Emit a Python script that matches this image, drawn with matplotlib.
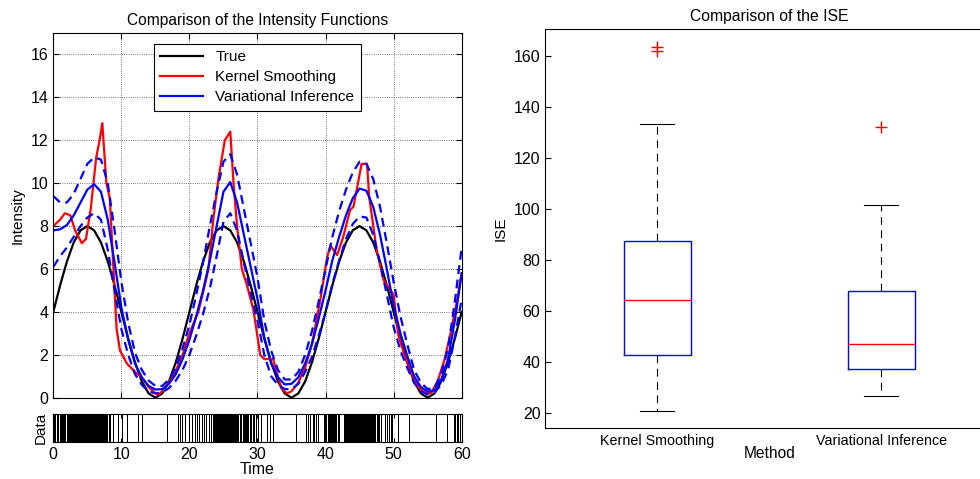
import matplotlib
matplotlib.use("Agg")
import matplotlib.pyplot as plt

plt.rcParams['font.family'] = ['Liberation Sans', 'DejaVu Sans']

# time grid for the true intensity and VI curves
t_grid = list(range(0, 61))

true_rate = [4.0, 5.24, 6.35, 7.24, 7.80, 8.0, 7.80, 7.24, 6.35, 5.24,
             4.0, 2.76, 1.65, 0.76, 0.20, 0.0, 0.20, 0.76, 1.65, 2.76,
             4.0, 5.24, 6.35, 7.24, 7.80, 8.0, 7.80, 7.24, 6.35, 5.24,
             4.0, 2.76, 1.65, 0.76, 0.20, 0.0, 0.20, 0.76, 1.65, 2.76,
             4.0, 5.24, 6.35, 7.24, 7.80, 8.0, 7.80, 7.24, 6.35, 5.24,
             4.0, 2.76, 1.65, 0.76, 0.20, 0.0, 0.20, 0.76, 1.65, 2.76,
             4.0]

vi_mean = [7.8, 7.85, 8.05, 8.5, 9.1, 9.7, 9.95, 9.6, 8.3, 6.3,
           4.2, 2.7, 1.6, 0.95, 0.55, 0.38, 0.4, 0.65, 1.1, 1.8,
           2.7, 3.8, 5.0, 6.4, 8.0, 9.6, 10.05, 9.1, 7.6, 6.1,
           4.6, 2.8, 1.6, 0.95, 0.62, 0.65, 0.95, 1.6, 2.5, 3.7,
           5.0, 6.4, 7.5, 8.5, 9.3, 9.75, 9.65, 8.9, 7.6, 6.0,
           4.3, 3.0, 1.95, 1.0, 0.5, 0.28, 0.35, 0.85, 1.8, 3.6,
           5.8]

vi_upper = [9.4, 9.1, 9.1, 9.5, 10.2, 10.9, 11.2, 11.1, 10.0, 7.8,
            5.4, 3.5, 2.1, 1.3, 0.8, 0.55, 0.55, 0.85, 1.4, 2.3,
            3.4, 4.8, 6.3, 8.0, 9.6, 11.0, 11.35, 10.4, 8.8, 7.2,
            5.6, 3.6, 2.2, 1.3, 0.85, 0.85, 1.2, 2.0, 3.1, 4.5,
            6.0, 7.5, 8.7, 9.7, 10.5, 11.0, 10.9, 10.2, 8.9, 7.2,
            5.4, 3.8, 2.5, 1.3, 0.7, 0.4, 0.45, 1.1, 2.3, 4.5,
            7.0]

vi_lower = [6.1, 6.6, 7.0, 7.5, 8.0, 8.4, 8.6, 8.3, 6.9, 5.0,
            3.2, 2.0, 1.1, 0.6, 0.3, 0.2, 0.25, 0.45, 0.8, 1.3,
            2.0, 2.9, 3.9, 5.1, 6.6, 8.2, 8.6, 7.8, 6.3, 4.9,
            3.6, 2.0, 1.0, 0.6, 0.4, 0.4, 0.65, 1.2, 1.9, 2.9,
            4.0, 5.3, 6.4, 7.4, 8.1, 8.45, 8.4, 7.6, 6.3, 4.8,
            3.3, 2.2, 1.4, 0.7, 0.3, 0.15, 0.25, 0.6, 1.3, 2.8,
            4.6]

# kernel smoothing estimate (uneven time points)
ks_t = [0.0, 1.0, 1.7, 2.5, 3.2, 4.2, 4.8, 5.5, 6.3, 6.8, 7.2, 7.8, 8.3,
        9.0, 9.3, 9.8, 10.8, 12.0, 13.0, 14.0, 15.0, 15.5, 16.0, 17.0,
        18.0, 19.0, 20.0, 21.3, 22.0, 22.8, 23.5, 24.3, 25.2, 26.0, 26.5,
        27.0, 27.7, 28.4, 29.4, 30.4, 31.0, 32.3, 32.8, 33.5, 34.3, 35.0,
        36.0, 37.0, 38.0, 39.2, 40.2, 40.7, 41.7, 42.6, 43.6, 44.1, 45.3,
        46.1, 46.4, 47.5, 48.5, 50.0, 50.7, 51.5, 52.5, 53.5, 54.5, 55.5,
        56.5, 57.5, 58.5, 59.3, 60.0]
ks_rate = [8.0, 8.3, 8.6, 8.5, 7.8, 7.2, 7.4, 8.8, 11.2, 12.0, 12.8, 10.0,
           9.3, 5.0, 3.2, 2.2, 1.6, 1.2, 0.95, 0.5, 0.2, 0.15, 0.3, 0.7,
           1.25, 2.0, 3.0, 4.0, 4.9, 6.0, 8.3, 10.3, 12.0, 12.4, 9.9,
           8.0, 6.0, 5.3, 4.1, 2.0, 1.8, 1.8, 1.2, 0.45, 0.2, 0.3,
           0.7, 1.4, 2.5, 4.5, 6.5, 7.1, 6.65, 7.5, 8.75, 8.9, 10.9,
           10.9, 9.4, 6.9, 5.5, 4.8, 2.9, 2.1, 1.2, 0.55, 0.25, 0.2,
           0.8, 1.8, 3.2, 4.5, 5.8]

# observed event times
events = [0.05, 0.22, 0.31, 0.48, 0.66, 0.74, 0.93, 1.08, 1.21, 1.37, 1.52,
          1.60, 1.79, 1.95, 2.12, 2.26, 2.41, 2.55, 2.70, 2.88, 3.03, 3.14,
          3.30, 3.47, 3.61, 3.72, 3.90, 4.05, 4.17, 4.29, 4.44, 4.58, 4.67,
          4.82, 4.96, 5.08, 5.21, 5.33, 5.47, 5.56, 5.70, 5.83, 5.95, 6.07,
          6.19, 6.34, 6.46, 6.58, 6.71, 6.85, 6.97, 7.12, 7.26, 7.38, 7.55,
          7.71, 7.90, 8.12, 8.37, 8.71,
          9.52, 10.02, 10.81, 12.41, 13.02, 16.72, 18.38, 18.62, 18.91, 19.33,
          19.92, 20.41, 20.77, 21.10, 21.43, 21.81, 22.15, 22.48, 22.86, 23.18,
          23.47, 23.62, 23.80, 23.95, 24.11, 24.24, 24.39, 24.50, 24.66, 24.79,
          24.91, 25.06, 25.18, 25.33, 25.45, 25.58, 25.70, 25.86, 25.97, 26.12,
          26.25, 26.38, 26.51, 26.63, 26.79, 26.92, 27.05, 27.19, 27.36, 27.52,
          27.64, 27.81, 27.98, 28.14, 28.31, 28.49, 28.66, 28.87, 29.08, 29.29,
          29.52, 29.71,
          30.02, 30.48, 31.37, 31.79, 32.31, 35.62, 37.08, 37.41, 37.77, 38.09,
          38.32, 38.61, 38.83,
          39.81, 39.97, 40.12, 40.30, 40.44, 40.61, 40.77, 40.95, 41.10, 41.28,
          41.43, 41.60, 41.79, 41.98,
          42.71, 42.86, 43.00, 43.15, 43.27, 43.42, 43.56, 43.69, 43.83, 43.95,
          44.09, 44.21, 44.36, 44.48, 44.60, 44.74, 44.87, 44.99, 45.12, 45.25,
          45.39, 45.51, 45.63, 45.78, 45.90, 46.04, 46.17, 46.31, 46.45, 46.58,
          46.72, 46.86, 47.01, 47.17, 47.33, 47.50, 47.68, 47.86,
          48.21, 48.69, 49.02, 49.31, 49.58, 49.82, 50.61, 52.31, 56.18, 57.91,
          58.83, 59.04, 59.29, 59.52, 59.71]

# ISE boxplot summaries
methods = ['Kernel Smoothing', 'Variational Inference']
ise_whislo = [20.7, 26.7]
ise_q1 = [42.7, 37.3]
ise_med = [64.3, 46.9]
ise_q3 = [87.5, 67.6]
ise_whishi = [133.3, 101.5]
ise_fliers = [[163.6, 161.9], [132.2]]


fig = plt.figure(figsize=(9.8, 4.79), dpi=100)

# ---- intensity functions ----
ax = fig.add_axes([0.0544, 0.1697, 0.4167, 0.7614])
ax.plot(t_grid, true_rate, color='k', lw=1.6, label='True')
ax.plot(ks_t, ks_rate, color='r', lw=1.6, label='Kernel Smoothing')
ax.plot(t_grid, vi_mean, color='b', lw=1.6, label='Variational Inference')
ax.plot(t_grid, vi_upper, color='b', lw=1.6, ls=(0, (4, 2.5)))
ax.plot(t_grid, vi_lower, color='b', lw=1.6, ls=(0, (4, 2.5)))
ax.set_xlim(0, 60)
ax.set_ylim(0, 17)
ax.set_yticks(range(0, 17, 2))
ax.set_xticks(range(0, 61, 10))
ax.set_xticklabels([])
ax.grid(True, ls=':', color='k', lw=0.6, alpha=0.7)
ax.tick_params(direction='in', top=True, right=True, labelsize=11.5, length=4)
ax.set_ylabel('Intensity', fontsize=11)
ax.set_title('Comparison of the Intensity Functions', fontsize=11.2)
leg = ax.legend(loc='upper center', bbox_to_anchor=(0.5, 0.992), fontsize=11,
                fancybox=False, edgecolor='k', framealpha=1, handlelength=2.8,
                borderpad=0.45, labelspacing=0.38)
leg.get_frame().set_linewidth(0.8)

# ---- data rug ----
axd = fig.add_axes([0.0544, 0.0779, 0.4167, 0.0572])
axd.vlines(events, 0, 1, color='k', lw=0.5, antialiased=False)
axd.set_xlim(0, 60)
axd.set_ylim(0, 1)
axd.set_yticks([])
axd.set_xticks(range(0, 61, 10))
axd.tick_params(direction='in', top=True, labelsize=11.5, length=3)
axd.set_ylabel('Data', fontsize=11)
axd.set_xlabel('Time', fontsize=11.5, labelpad=0)

# ---- ISE boxplot ----
axb = fig.add_axes([0.5564, 0.1058, 0.457, 0.833])
stats = []
for i in range(len(methods)):
    stats.append({'label': methods[i], 'whislo': ise_whislo[i], 'q1': ise_q1[i],
                  'med': ise_med[i], 'q3': ise_q3[i], 'whishi': ise_whishi[i],
                  'fliers': ise_fliers[i]})
axb.bxp(stats, positions=[1, 2], widths=0.3, showfliers=True,
        boxprops=dict(color='b', lw=1.0),
        medianprops=dict(color='r', lw=1.0),
        whiskerprops=dict(color='k', lw=0.8, ls=(0, (7, 5))),
        capprops=dict(color='k', lw=0.8),
        capwidths=0.15,
        flierprops=dict(marker='+', markeredgecolor='r', markersize=8, lw=0))
axb.set_xlim(0.5, 2.5)
axb.set_ylim(13.9, 170.5)
axb.set_yticks(range(20, 161, 20))
axb.tick_params(axis='y', direction='in', right=True, labelsize=11.5, length=4)
axb.tick_params(axis='x', length=0, labelsize=10.3, pad=4)
axb.set_ylabel('ISE', fontsize=11)
axb.set_xlabel('Method', fontsize=11.2, labelpad=-1)
axb.set_title('Comparison of the ISE', fontsize=11.3)

fig.savefig('out.png', dpi=100)
